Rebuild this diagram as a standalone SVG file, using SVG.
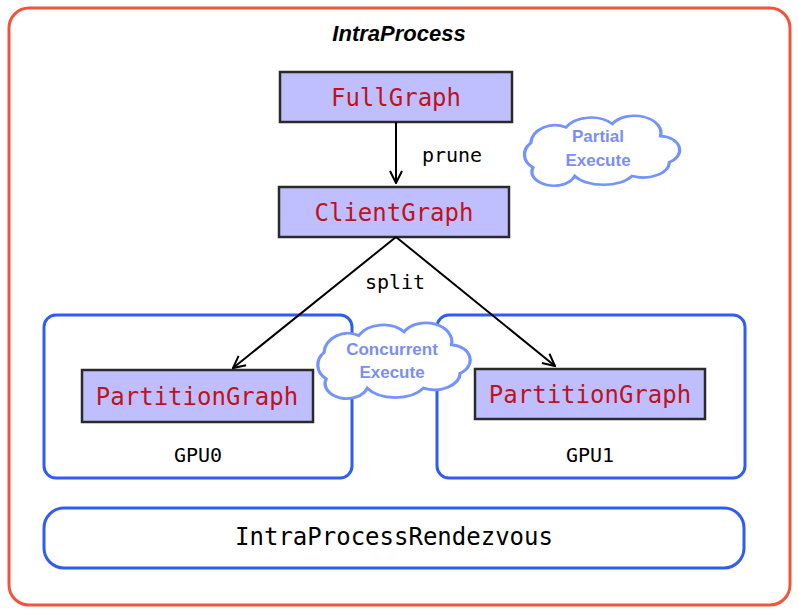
<svg xmlns="http://www.w3.org/2000/svg" width="798" height="614" viewBox="0 0 798 614">
<style>
.box{fill:#bfbfff;stroke:#2a2a2a;stroke-width:2.5}
.mono{font-family:"DejaVu Sans Mono","Liberation Mono",monospace}
.red{fill:#c0121c;font-size:24px}
.lbl{fill:#000;font-size:20px}
.gpu{fill:#fff;stroke:#2f5cf2;stroke-width:3}
.cloud{fill:#fff;stroke:#7393ff;stroke-width:3}
.ctext{fill:#7c8ef5;font-family:"Liberation Sans",Arial,sans-serif;font-weight:bold;font-size:17px}
.conn{stroke:#000;stroke-width:2;fill:none}
</style>
<defs>
<marker id="arr" viewBox="0 0 14 14" refX="13" refY="7" markerWidth="14" markerHeight="14" markerUnits="userSpaceOnUse" orient="auto">
<path d="M1,1 L13,7 L1,13" fill="none" stroke="#000" stroke-width="2"/>
</marker>
<path id="cloudshape" d="M-60,20 A18,18 0 0 1 -62,-8 A22,22 0 0 1 -30,-26 A26,22 0 0 1 12,-30 A24,20 0 0 1 56,-16 A18,16 0 0 1 64,14 A24,18 0 0 1 30,30 A30,20 0 0 1 -22,30 A20,16 0 0 1 -60,20 Z"/>
</defs>
<rect width="798" height="614" fill="#fff"/>
<g id="intraprocess">
<rect x="9" y="8" width="781" height="597" rx="20" fill="#fff" stroke="#f0553c" stroke-width="3"/>
<text x="399" y="41" text-anchor="middle" font-family="Liberation Sans,Arial,sans-serif" font-weight="bold" font-style="italic" font-size="22">IntraProcess</text>
</g>
<g id="gpu0">
<rect class="gpu" x="44" y="315" width="308" height="163" rx="12"/>
<text class="mono lbl" x="198" y="462" text-anchor="middle">GPU0</text>
</g>
<g id="gpu1">
<rect class="gpu" x="437" y="315" width="308" height="163" rx="12"/>
<text class="mono lbl" x="590" y="462" text-anchor="middle">GPU1</text>
</g>
<g id="rendezvous">
<rect class="gpu" x="44" y="508" width="700" height="60" rx="20"/>
<text class="mono" x="394" y="545" text-anchor="middle" font-size="24" fill="#000">IntraProcessRendezvous</text>
</g>
<g id="fullgraph">
<rect class="box" x="280" y="72" width="232" height="50"/>
<text class="mono red" x="396" y="106" text-anchor="middle">FullGraph</text>
</g>
<g id="clientgraph">
<rect class="box" x="279" y="187" width="230" height="50"/>
<text class="mono red" x="394" y="221" text-anchor="middle">ClientGraph</text>
</g>
<g id="partition0">
<rect class="box" x="82" y="370" width="231" height="52"/>
<text class="mono red" x="197" y="405" text-anchor="middle">PartitionGraph</text>
</g>
<g id="partition1">
<rect class="box" x="475" y="369" width="230" height="50"/>
<text class="mono red" x="590" y="403" text-anchor="middle">PartitionGraph</text>
</g>
<g id="partialexecute">
<use href="#cloudshape" class="cloud" transform="translate(599,150) scale(1.1,0.87)"/>
<text class="ctext" x="598" y="142" text-anchor="middle">Partial</text>
<text class="ctext" x="598" y="166" text-anchor="middle">Execute</text>
</g>
<g id="connectors">
<line class="conn" x1="396" y1="122" x2="396" y2="183" marker-end="url(#arr)"/>
<line class="conn" x1="396" y1="237" x2="233" y2="368" marker-end="url(#arr)"/>
<line class="conn" x1="396" y1="237" x2="555" y2="366" marker-end="url(#arr)"/>
<text class="mono lbl" x="452" y="162" text-anchor="middle">prune</text>
<text class="mono lbl" x="395" y="289" text-anchor="middle">split</text>
</g>
<g id="concurrentexecute">
<use href="#cloudshape" class="cloud" transform="translate(391,360) scale(1.08,0.94)"/>
<text class="ctext" x="392" y="355" text-anchor="middle">Concurrent</text>
<text class="ctext" x="392" y="378" text-anchor="middle">Execute</text>
</g>
</svg>
